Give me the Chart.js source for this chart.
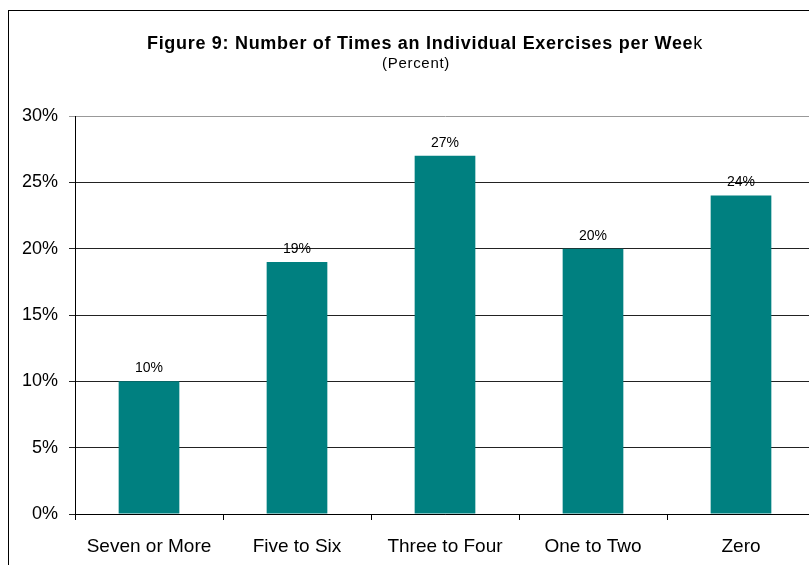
<!DOCTYPE html>
<html>
<head>
<meta charset="utf-8">
<script src="https://cdn.jsdelivr.net/npm/chart.js@4"></script>
<style>
  html, body { margin: 0; padding: 0; background: #fff; overflow: hidden; }
  #wrap { position: relative; width: 809px; height: 565px; overflow: hidden; }
  #frame { position: absolute; left: 8px; top: 10px; width: 900px; height: 700px; border: 1px solid #000; }
  .ttl { position: absolute; left: 0; text-align: center; color: #000;
         font-family: "Liberation Sans", Arial, sans-serif; white-space: nowrap; }
  #title { width: 850px; top: 33px; font-size: 18px; line-height: 20px; letter-spacing: 0.7px; }
  #sub { width: 832px; top: 54px; font-size: 15px; line-height: 18px; letter-spacing: 0.7px; }
  #c { position: absolute; left: 0; top: 0; }
</style>
</head>
<body>
<div id="wrap">
  <div id="frame"></div>
  <canvas id="c" width="830" height="565"></canvas>
  <div id="title" class="ttl"><b>Figure 9: Number of Times an Individual Exercises per Wee</b>k</div>
  <div id="sub" class="ttl">(Percent)</div>
</div>
<script>
// exercise frequency chart

const categories = ["Seven or More", "Five to Six", "Three to Four", "One to Two", "Zero"];
const percents = [10, 19, 27, 20, 24];
const yTicks = [0, 5, 10, 15, 20, 25, 30];

const FONT = "'Liberation Sans', Arial, sans-serif";

// draws the % value above each bar
const barLabels = {
    id: "barLabels",
    afterDatasetsDraw(chart) {
        const ctx = chart.ctx;
        const meta = chart.getDatasetMeta(0);
        ctx.save();
        ctx.font = "14px " + FONT;
        ctx.fillStyle = "#000";
        ctx.textAlign = "center";
        ctx.textBaseline = "middle";
        meta.data.forEach((bar, i) => {
            ctx.fillText(percents[i] + "%", bar.x, bar.y - 13);
        });
        ctx.restore();
    },
};

const canvas = document.getElementById("c");
canvas.style.width = "830px";
canvas.style.height = "565px";

new Chart(canvas.getContext("2d"), {
    type: "bar",
    data: {
        labels: categories,
        datasets: [
            {
                data: percents,
                backgroundColor: "#008080",
                borderWidth: 0,
                barPercentage: 0.41,
                categoryPercentage: 1,
            },
        ],
    },
    options: {
        responsive: false,
        animation: false,
        events: [],
        layout: { padding: { top: 116, right: 15, left: 0, bottom: 0 } },
        plugins: {
            legend: { display: false },
            tooltip: { enabled: false },
        },
        scales: {
            x: {
                grid: {
                    offset: true,
                    drawOnChartArea: false,
                    drawTicks: true,
                    tickLength: 6,
                    color: "#000",
                },
                border: { color: "#000", width: 1 },
                ticks: { color: "#000", font: { family: FONT, size: 19 }, padding: 15 },
                afterFit(scale) { scale.height = 51; },
            },
            y: {
                min: 0,
                max: 30,
                afterBuildTicks(scale) { scale.ticks = yTicks.map(v => ({ value: v })); },
                grid: {
                    color: (c) => (c.tick && c.tick.value === 30 ? "#999" : "#222"),
                    tickLength: 6,
                    drawTicks: true,
                },
                border: { color: "#000", width: 1 },
                ticks: {
                    color: "#000",
                    font: { family: FONT, size: 18 },
                    padding: 11,
                    callback: (v) => v + "%",
                },
                afterFit(scale) { scale.width = 75; },
            },
        },
    },
    plugins: [barLabels],
});
</script>
</body>
</html>
